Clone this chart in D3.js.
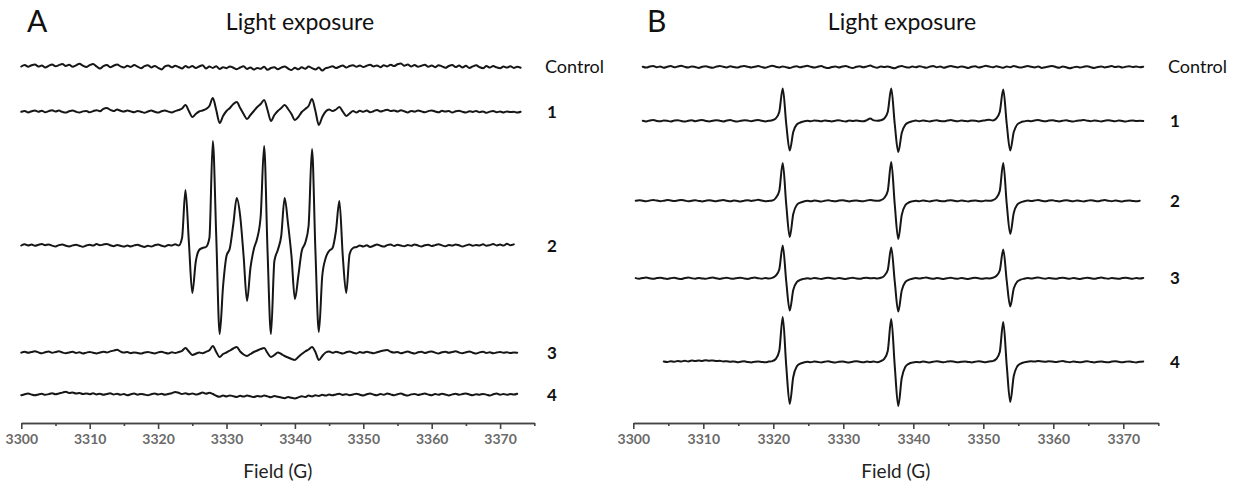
<!DOCTYPE html>
<html>
<head>
<meta charset="utf-8">
<script src="https://cdn.jsdelivr.net/npm/d3@7"></script>
<style>
  body { margin: 0; background: #fff; }
  svg { display: block; }
</style>
</head>
<body>
<svg id="chart" width="1233" height="496"></svg>
<script>
// ---------------------------------------------------------------
// EPR spectra after light exposure: two panels, five traces each.
// Each trace is sampled every 0.5 G; values are signal heights
// (arbitrary units, positive = up) starting at the given field.
// ---------------------------------------------------------------
const fieldTicks = [3300, 3310, 3320, 3330, 3340, 3350, 3360, 3370];
const minorTicks = [3305, 3315, 3325, 3335, 3345, 3355, 3365, 3375];
const traceLabels = ["Control", "1", "2", "3", "4"];
const fieldStep = 0.5;

// Panel A — seven-line spectrum (strong in sample 2)
const aStarts = [3300, 3300, 3300, 3300, 3300];

const aControl = [
  0.5, 2.0, 0.2, 1.8, 2.6, 0.4, 1.5, -0.5, 1.2, 2.4,     // 3300
  0.8, 1.9, 3.0, 1.0, 2.2, 0.3, 1.6, 3.2, 1.4, 0.0,      // 3305
  1.8, 2.9, 0.6, -1.6, 0.9, 2.1, -0.2, 1.3, 2.5, 0.7,    // 3310
  -0.6, 1.2, 0.1, 1.9, 0.4, -1.2, 0.8, 1.7, -0.4, 1.0,   // 3315
  -0.8, -2.4, 0.6, 1.5, -0.3, 1.2, 0.0, -1.5, 0.9, -0.6, // 3320
  1.1, -1.0, 0.5, 1.8, -1.6, 0.4, -0.9, 0.8, -2.0, -0.2, // 3325
  -1.2, 0.6, -0.8, -2.2, -0.5, 0.7, -1.9, -0.4, -2.6, -0.9, // 3330
  -1.8, 0.2, -2.8, -1.0, -0.3, -2.2, -0.6, 0.5, -1.5, -3.0, // 3335
  -0.8, -2.3, -0.2, -1.8, 0.4, -1.1, -2.6, -0.5, -3.6, -1.2, // 3340
  -0.4, 0.8, -1.0, 0.3, 1.4, -0.6, 1.0, 1.8, 0.2, 1.5,   // 3345
  0.0, 1.3, 2.2, 0.5, 1.6, -0.2, 1.7, 0.6, 2.3, 0.9,     // 3350
  2.8, 3.6, 1.2, 2.4, 0.4, 2.0, 0.2, 1.3, 2.2, 0.3,      // 3355
  1.6, -0.2, 1.8, 0.6, -0.8, 1.0, 2.1, 0.0, 1.4, -0.5,   // 3360
  1.2, -1.0, 0.6, 1.7, -0.2, -1.2, 0.9, -0.6, 1.0, -0.4, // 3365
  -1.2, 0.5, -0.6, 0.8, -0.9, 0.2, -0.7                  // 3370
];

const aSample1 = [
  0.2, 1.0, -0.4, 0.8, 1.6, 0.3, 1.2, -0.2, 0.9, 1.8,    // 3300
  0.5, 1.4, 0.1, -0.6, 0.8, 1.5, 0.2, -0.5, 0.6, 1.1,    // 3305
  -0.3, 0.9, 1.8, 0.8, 3.2, 4.0, 2.2, 1.0, 2.4, 1.2,     // 3310
  0.4, 1.6, 0.6, -0.2, 1.0, 0.3, -0.8, 0.5, 1.4, 0.2,    // 3315
  -0.6, 0.8, 1.5, 0.4, -0.4, 0.9, 2.0, 3.5, 7.0, 1.0,    // 3320
  -5.0, -2.0, 0.5, 1.5, 3.0, 6.0, 14.0, 2.0, -11.0, -4.0, // 3325
  1.0, 4.0, 8.0, 10.0, 4.0, -2.0, -7.0, -3.0, 1.0, 5.0,  // 3330
  8.0, 12.0, 2.0, -9.0, -3.0, 1.0, 4.0, 7.0, 3.0, -2.0,  // 3335
  -8.0, -5.0, 0.0, 3.0, 6.0, 13.0, 1.0, -13.0, -5.0, 0.5, // 3340
  2.5, 1.0, 2.5, 5.0, 0.5, -4.0, -1.5, 1.0, -0.5, 1.2,   // 3345
  0.2, 1.5, -0.3, 0.8, 2.0, 0.6, 1.4, 2.2, 0.9, 1.6,     // 3350
  0.4, 1.8, 0.7, -0.4, 1.1, 0.3, 1.5, 0.6, -0.2, 0.9,    // 3355
  1.6, 0.5, -0.3, 1.2, 0.4, 1.0, -0.6, 0.7, 1.3, 0.2,    // 3360
  -0.5, 0.8, 0.1, 1.1, -0.2, 0.6, -0.8, 0.4, 0.9, -0.3,  // 3365
  0.5, -0.4, 0.6, -0.1, 0.3, -0.6, 0.2                   // 3370
];

const aSample2 = [
  0.5, 1.8, 0.6, 1.5, 0.2, 1.2, 2.0, 0.8, 1.6, 0.4,      // 3300
  -0.5, 0.9, 1.6, 0.3, -0.4, 0.6, 1.3, 0.2, -0.8, 0.5,   // 3305
  1.2, 0.4, 1.9, 0.7, 1.5, 2.1, 0.8, -0.2, 1.0, 0.3,     // 3310
  -0.6, 0.5, -0.4, 0.6, 1.2, 0.0, -0.9, 0.3, -0.5, 0.8,  // 3315
  1.6, 0.2, -0.4, 1.0, 0.6, 1.7, 0.4, 8.0, 56.0, 4.0,    // 3320
  -47.0, -16.0, -4.0, -2.0, -1.0, 8.0, 105.0, 10.0, -88.0, -40.0, // 3325
  -10.0, -2.0, 22.0, 48.0, 30.0, -10.0, -55.0, -22.0, -3.0, 8.0,  // 3330
  30.0, 100.0, -5.0, -88.0, -15.0, -4.0, 10.0, 48.0, 22.0, -10.0, // 3335
  -53.0, -30.0, -5.0, 3.0, 20.0, 97.0, -5.0, -86.0, -30.0, -12.0, // 3340
  -5.0, -2.0, 15.0, 45.0, -10.0, -47.0, -8.0, -2.0, -1.0, 0.5,    // 3345
  -0.5, 0.8, -1.0, 0.2, 1.5, 0.3, -0.6, 0.9, 1.4, 0.1,   // 3350
  1.2, 0.4, -0.3, 1.0, 0.2, 1.6, 0.5, -0.4, 0.8, 1.3,    // 3355
  0.0, 0.9, 1.8, 0.6, -0.2, 1.1, 0.4, 1.5, 0.7, -0.5,    // 3360
  0.6, 1.4, 0.2, 1.0, 0.5, 1.7, 0.3, 0.9, 1.9, 0.6,      // 3365
  1.4, 0.4, 2.2, 0.8, 1.6                                // 3370
];

const aSample3 = [
  0.4, 1.3, 0.2, 1.0, 1.8, 0.6, -0.3, 0.8, 1.5, 0.2,     // 3300
  0.9, 1.7, 0.5, -0.2, 0.6, 1.2, 0.0, 0.7, -0.5, 0.4,    // 3305
  1.1, 0.3, -0.4, 0.5, 1.3, 0.6, 1.6, 2.4, 3.2, 1.5,     // 3310
  0.4, 1.0, -0.2, 0.6, 0.1, -0.6, 0.5, 1.1, 0.3, -0.4,   // 3315
  0.6, 1.2, 0.2, -0.5, 0.7, 0.0, 1.0, 2.2, 5.0, 1.5,     // 3320
  -2.0, -0.8, 0.5, -0.3, 1.2, 2.8, 7.0, 1.0, -4.0, -1.0, // 3325
  0.5, 2.5, 4.5, 6.0, 1.5, -1.5, -3.0, -1.0, 1.0, 2.5,   // 3330
  4.0, 5.0, 0.0, -4.0, -2.0, 0.5, -1.0, -3.0, -4.5, -6.0, // 3335
  -7.0, -4.0, -1.0, 1.5, 3.5, 6.0, 1.0, -7.0, -3.0, 0.5, // 3340
  1.5, 0.2, 1.2, 0.4, -0.5, 0.8, 1.6, 0.3, -0.4, 0.9,    // 3345
  0.2, 1.3, 0.5, -0.3, 0.8, 1.8, 2.6, 3.0, 1.2, 0.4,     // 3350
  1.1, -0.2, 0.6, 1.4, 0.3, -0.5, 0.7, 1.2, 0.1, 0.9,    // 3355
  1.6, 0.4, -0.4, 0.8, 1.3, 0.2, 1.0, 1.8, 0.5, -0.2,    // 3360
  0.7, 1.5, 0.3, -0.6, 0.6, 1.2, 0.0, 0.8, -0.3, 0.5,    // 3365
  1.0, 0.2, 0.8, -0.1, 0.6, 0.3                          // 3370
];

const aSample4 = [
  -0.2, 0.8, 1.5, 0.4, -0.3, 0.6, 1.2, 0.2, 0.9, 1.8,    // 3300
  0.7, 1.5, 2.4, 3.2, 2.0, 2.6, 1.4, 2.1, 0.9, 1.6,      // 3305
  0.8, 1.7, 0.6, 1.3, 0.2, 1.0, 1.8, 0.5, 1.2, 0.3,      // 3310
  0.9, -0.2, 0.7, 1.4, 0.3, 1.1, 0.4, -0.3, 0.8, 1.5,    // 3315
  0.6, 1.2, 0.3, 1.0, 1.8, 3.0, 2.2, 1.0, 1.8, 0.7,      // 3320
  1.6, 0.5, 1.2, 2.4, 1.3, 2.2, 1.0, -0.8, -1.8, -0.6,   // 3325
  -1.5, -0.4, -1.2, -2.0, -0.8, -1.6, -0.5, -1.3, -2.1, -0.9, // 3330
  -1.6, -0.6, -1.4, -2.2, -1.0, -1.8, -2.6, -3.2, -2.0, -2.8, // 3335
  -3.4, -2.4, -1.2, -2.0, -0.6, -1.4, -0.2, -1.0, 0.2, -0.6,  // 3340
  0.4, -0.3, 0.6, 1.2, 0.1, 0.8, -0.2, 0.5, 1.3, 0.3,    // 3345
  -0.4, 0.7, 1.5, 0.4, -0.2, 0.9, 0.3, 1.6, 0.6, -0.3,   // 3350
  0.8, 1.4, 0.2, -0.5, 0.6, 1.1, 0.0, 0.8, 1.5, 0.4,     // 3355
  -0.3, 0.9, 0.3, 1.2, 0.5, -0.4, 0.6, 1.3, 0.2, 0.9,    // 3360
  1.6, 0.5, -0.2, 0.8, 0.3, 1.1, 0.4, -0.5, 0.7, 1.5,    // 3365
  0.3, 1.0, 0.2, 0.9, 0.4, 1.2                           // 3370
];

// Panel B — three-line spectrum (samples 1–4)
const bStarts = [3301.35, 3301.35, 3300.35, 3300.35, 3304.35];

const bControl = [
  0.3, -0.6, 0.5, 1.0, -0.2, 0.4, -0.8, 0.2, 0.9, -0.3,  // 3301.35
  0.5, 1.2, 0.1, -0.5, 0.6, 0.0, -0.9, 0.3, 0.8, -0.2,   // 3306.35
  -0.7, 0.4, 1.1, 0.2, -0.4, 0.7, 0.0, -0.6, 0.5, 1.0,   // 3311.35
  0.3, -0.5, 0.2, 0.9, -0.1, -0.8, 0.4, 1.2, 0.3, -0.4,  // 3316.35
  0.6, -0.2, -1.0, 0.1, 0.7, -0.3, 0.5, 1.3, 0.2, -0.6,  // 3321.35
  0.3, 0.9, -0.4, -1.1, 0.0, 0.6, -0.5, 0.4, 1.0, -0.2,  // 3326.35
  -0.9, 0.2, 0.8, -0.3, 0.5, 1.4, 0.1, -0.7, 0.4, -0.1,  // 3331.35
  0.6, -0.5, -1.2, 0.2, 0.9, 0.0, -0.6, 0.5, -0.3, 0.8,  // 3336.35
  0.1, -0.8, 0.4, 1.1, -0.2, 0.5, -0.7, 0.2, 1.0, 0.3,   // 3341.35
  -0.4, 0.6, -0.1, -0.9, 0.3, 0.8, -0.5, 0.2, 1.2, 0.4,  // 3346.35
  -0.3, 0.7, 0.0, -0.8, 0.4, -0.2, 0.9, 0.1, -0.6, 0.3,  // 3351.35
  1.0, 0.2, -0.5, 0.6, -0.9, -0.2, 0.5, 1.1, 0.0, -0.7,  // 3356.35
  0.4, -0.3, -1.3, -0.4, 0.3, -0.6, 0.2, 0.8, -0.2, -0.9, // 3361.35
  0.1, 0.6, -0.4, 0.3, 0.9, -0.1, 0.5, -0.5, 0.2, 0.7,   // 3366.35
  0.0, 0.4, -0.2, 0.3                                    // 3371.35
];

const bSample1 = [
  0.3, -0.4, 0.5, 0.9, 0.1, -0.3, 0.6, 0.2, -0.5, 0.4,   // 3301.35
  0.8, 0.0, -0.6, 0.3, 0.7, -0.2, 0.5, 1.0, 0.1, -0.4,   // 3306.35
  0.2, 0.8, 0.3, -0.5, 0.4, 0.9, 0.0, -0.6, 0.2, 0.7,    // 3311.35
  0.4, -0.2, 0.5, 1.0, 0.3, -0.4, 0.2, 0.8, 2.5, 9.0,    // 3316.35
  32.5, -3.0, -29.5, -11.0, -3.5, -1.5, -0.4, 0.3, -0.2, 0.5, // 3321.35
  0.2, -0.3, 0.6, 0.1, -0.4, 0.3, 0.8, 0.0, -0.5, 0.4,   // 3326.35
  0.1, 0.6, 0.0, -0.3, 0.8, 2.5, 0.6, 0.2, 0.7, 2.5,     // 3331.35
  9.0, 32.5, -3.0, -31.0, -12.0, -3.8, -1.4, -0.3, 0.4, -0.2, // 3336.35
  0.5, 0.1, -0.4, 0.3, 0.7, 0.0, -0.3, 0.4, 0.9, 0.2,    // 3341.35
  -0.3, 0.5, 0.1, -0.2, 0.6, 0.3, -0.4, 0.2, 0.8, 1.2,   // 3346.35
  0.6, 2.5, 9.0, 31.5, -3.0, -29.5, -11.0, -3.5, -1.3, -0.4, // 3351.35
  0.3, -0.2, 0.5, 1.0, 0.2, -0.3, 0.4, 0.8, 0.1, -0.4,   // 3356.35
  0.3, 0.7, 0.0, -0.5, 0.2, 0.6, 1.1, 0.3, -0.2, 0.4,    // 3361.35
  0.1, -0.4, 0.3, 0.8, 0.2, -0.3, 0.5, 0.0, -0.5, 0.2,   // 3366.35
  0.6, -0.1, 0.3, 0.0                                    // 3371.35
];

const bSample2 = [
  0.2, 0.8, 0.3, -0.3, 0.5, 1.0, 0.4, -0.2, 0.3, 0.9,    // 3300.35
  0.5, 0.0, 0.6, 1.1, 0.4, -0.3, 0.2, 0.7, 0.1, -0.4,    // 3305.35
  0.3, 0.8, 0.2, -0.2, 0.5, 0.9, 0.3, -0.3, 0.4, 0.0,    // 3310.35
  -0.5, 0.3, 0.8, 0.1, 0.6, 1.2, 0.4, -0.2, 0.1, 0.5,    // 3315.35
  3.0, 10.0, 38.0, -3.5, -36.0, -13.0, -4.0, -1.6, -0.5, 0.2, // 3320.35
  -0.3, 0.4, 0.0, -0.5, 0.2, 0.7, 0.1, -0.3, 0.4, 0.8,   // 3325.35
  0.2, -0.4, 0.3, 0.6, 0.0, -0.3, 0.5, 1.0, 0.4, 0.2,    // 3330.35
  0.8, 3.0, 10.0, 39.0, -3.5, -38.0, -14.0, -4.2, -1.5, -0.4, // 3335.35
  0.3, -0.2, 0.5, 0.1, -0.4, 0.3, 0.7, 0.0, -0.3, 0.4,   // 3340.35
  0.8, 0.2, -0.3, 0.5, 0.1, -0.4, 0.2, 0.6, 0.0, -0.2,   // 3345.35
  0.4, 0.2, 0.8, 3.0, 10.0, 38.0, -3.0, -33.0, -12.0, -3.6, // 3350.35
  -1.3, -0.3, 0.4, -0.1, 0.5, 0.9, 0.2, -0.3, 0.4, 0.7,  // 3355.35
  0.1, -0.4, 0.3, 0.8, 0.2, -0.2, 0.5, 0.1, -0.4, 0.3,   // 3360.35
  0.7, 0.2, -0.3, 0.4, 0.9, 0.3, -0.2, 0.5, 0.0, -0.4,   // 3365.35
  0.2, 0.6, 0.1, -0.3, 0.3                               // 3370.35
];

const bSample3 = [
  0.4, -0.2, 0.5, 0.9, 0.2, -0.3, 0.4, 0.8, 0.1, -0.4,   // 3300.35
  0.3, 0.7, 0.0, -0.5, 0.4, 1.0, 0.3, -0.2, 0.6, 0.1,    // 3305.35
  -0.3, 0.5, 0.9, 0.2, -0.4, 0.3, 0.7, 0.1, -0.2, 0.5,   // 3310.35
  0.8, 0.0, -0.4, 0.4, 0.9, 0.3, -0.2, 0.4, 0.0, 0.6,    // 3315.35
  2.8, 9.0, 33.0, -3.0, -32.0, -11.5, -3.6, -1.4, -0.4, 0.3, // 3320.35
  -0.2, 0.5, 0.1, -0.4, 0.3, 0.8, 0.2, -0.3, 0.5, 0.0,   // 3325.35
  -0.4, 0.3, 0.7, 0.1, -0.3, 0.4, 0.8, 0.2, 0.5, 0.1,    // 3330.35
  0.7, 2.7, 8.5, 31.0, -3.0, -33.0, -12.0, -3.7, -1.3, -0.3, // 3335.35
  0.4, -0.1, 0.5, 0.9, 0.2, -0.3, 0.4, 0.0, -0.4, 0.3,   // 3340.35
  0.7, 0.1, -0.3, 0.5, 0.0, -0.4, 0.3, 0.8, 0.2, -0.2,   // 3345.35
  0.3, 0.1, 0.7, 2.5, 8.0, 29.0, -2.5, -28.0, -10.0, -3.2, // 3350.35
  -1.1, -0.2, 0.4, 0.0, 0.6, 1.0, 0.3, -0.2, 0.5, 0.1,   // 3355.35
  -0.3, 0.4, 0.8, 0.2, -0.2, 0.5, 0.0, -0.4, 0.3, 0.7,   // 3360.35
  0.2, -0.3, 0.4, 0.9, 0.3, -0.2, 0.5, 0.1, -0.3, 0.4,   // 3365.35
  0.8, 0.2, -0.2, 0.4, 0.0, 0.5                          // 3370.35
];

const bSample4 = [
  0.5, 0.0, 0.8, 0.3, 1.0, 0.5, 1.2, 0.6, 1.4, 1.0,      // 3304.35
  1.6, 1.1, 1.8, 1.3, 1.5, 0.9, 1.2, 0.5, 0.8, 0.2,      // 3309.35
  0.6, -0.2, 0.3, 0.7, 0.0, -0.4, 0.3, 0.6, 0.1, -0.3,   // 3314.35
  0.4, 0.9, 3.0, 11.0, 45.0, -4.0, -42.0, -15.0, -4.5, -1.6, // 3319.35
  -0.5, 0.2, -0.3, 0.5, 0.1, -0.4, 0.3, 0.7, 0.0, -0.5,  // 3324.35
  0.2, 0.6, -0.1, -0.5, 0.3, 0.8, 0.2, -0.3, 0.4, 0.0,   // 3329.35
  0.5, -0.2, 0.9, 3.2, 11.0, 43.0, -4.0, -44.0, -16.0, -5.0, // 3334.35
  -1.8, -0.6, 0.1, -0.3, 0.4, 0.0, -0.4, 0.3, 0.7, 0.2,  // 3339.35
  -0.2, 0.4, 0.8, 0.3, -0.3, 0.2, 0.6, 0.1, -0.4, 0.3,   // 3344.35
  0.7, 0.2, -0.2, 0.5, 0.9, 3.0, 10.0, 40.0, -3.5, -40.0, // 3349.35
  -14.0, -4.4, -1.6, -0.4, 0.3, 0.8, 0.4, 1.0, 0.6, 0.2, // 3354.35
  0.8, 0.4, -0.1, 0.5, 0.9, 0.3, -0.2, 0.4, 0.0, -0.3,   // 3359.35
  0.3, 0.7, 0.1, -0.4, 0.2, 0.6, 0.0, -0.3, 0.4, 0.8,    // 3364.35
  0.2, -0.2, 0.3, 0.6, 0.0, -0.4, 0.2, 0.5               // 3369.35
];

// ---------------------------------------------------------------
// Layout
// ---------------------------------------------------------------
const svg = d3.select("#chart");
const axisY = 423;
const fontFamily = "Lato, 'Open Sans', 'DejaVu Sans', sans-serif";

const panels = [
  {
    letter: "A",
    letterX: 27,
    titleX: 300,
    range: [21.3, 534.3],
    baselines: [67, 112, 246, 353, 395],
    labelX: 545,
    starts: aStarts,
    traces: [aControl, aSample1, aSample2, aSample3, aSample4]
  },
  {
    letter: "B",
    letterX: 647,
    titleX: 902,
    range: [633.3, 1158.3],
    baselines: [67, 121, 201, 278.5, 362],
    labelX: 1168,
    starts: bStarts,
    traces: [bControl, bSample1, bSample2, bSample3, bSample4]
  }
];

panels.forEach(p => {
  const g = svg.append("g");
  const x = d3.scaleLinear().domain([3300, 3375]).range(p.range);

  // panel letter and title
  g.append("text")
    .attr("x", p.letterX).attr("y", 32)
    .attr("font-family", fontFamily).attr("font-size", 30)
    .attr("fill", "#111")
    .text(p.letter);

  g.append("text")
    .attr("x", p.titleX).attr("y", 30)
    .attr("text-anchor", "middle")
    .attr("font-family", fontFamily).attr("font-size", 23)
    .attr("fill", "#111")
    .text("Light exposure");

  // spectra
  p.traces.forEach((vals, i) => {
    const base = p.baselines[i];
    const y = d3.scaleLinear().domain([-120, 120]).range([base + 120, base - 120]);
    const pts = vals.map((v, k) => [p.starts[i] + k * fieldStep, v]);
    const line = d3.line()
      .x(d => x(d[0]))
      .y(d => y(d[1]))
      .curve(d3.curveMonotoneX);

    g.append("path")
      .datum(pts)
      .attr("d", line)
      .attr("fill", "none")
      .attr("stroke", "#161616")
      .attr("stroke-width", 2)
      .attr("stroke-linejoin", "round")
      .attr("stroke-linecap", "round");

    const isControl = traceLabels[i] === "Control";
    g.append("text")
      .attr("x", p.labelX + (isControl ? 0 : 2))
      .attr("y", base)
      .attr("dy", "0.35em")
      .attr("font-family", fontFamily)
      .attr("font-size", isControl ? 18 : 17)
      .attr("font-weight", isControl ? 400 : 700)
      .attr("fill", "#111")
      .text(traceLabels[i]);
  });

  // field axis: labelled major ticks plus short minor ticks
  const axisG = g.append("g").attr("transform", `translate(0,${axisY})`);
  axisG.call(
    d3.axisBottom(x)
      .tickValues(fieldTicks)
      .tickSizeInner(6)
      .tickSizeOuter(0)
      .tickPadding(5)
      .tickFormat(d3.format("d"))
  );
  const minorG = g.append("g").attr("transform", `translate(0,${axisY})`);
  minorG.call(
    d3.axisBottom(x)
      .tickValues(minorTicks)
      .tickSizeInner(3)
      .tickSizeOuter(0)
      .tickFormat("")
  );
  [axisG, minorG].forEach(a => {
    a.select(".domain").attr("stroke", "#444").attr("stroke-width", 1.6);
    a.selectAll(".tick line").attr("stroke", "#444").attr("stroke-width", 1.6);
  });
  axisG.selectAll(".tick text")
    .attr("font-family", fontFamily)
    .attr("font-size", 14)
    .attr("font-weight", 700)
    .attr("fill", "#6a6a6a");

  g.append("text")
    .attr("x", x(3337.5)).attr("y", 478)
    .attr("text-anchor", "middle")
    .attr("font-family", fontFamily).attr("font-size", 19)
    .attr("fill", "#222")
    .text("Field (G)");
});
</script>
</body>
</html>
